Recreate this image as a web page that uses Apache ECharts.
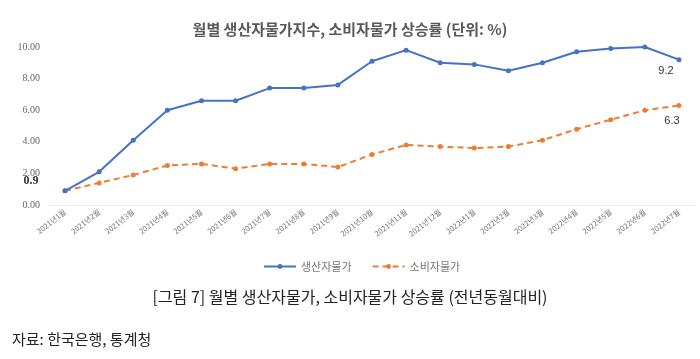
<!DOCTYPE html>
<html>
<head>
<meta charset="utf-8">
<script src="https://cdn.jsdelivr.net/npm/echarts@6/dist/echarts.min.js"></script>
<style>html,body{margin:0;padding:0;background:#fff;}#c{width:700px;height:359px;}</style>
</head>
<body>
<div id="c"></div>
<script>
const categories = ['2021년1월','2021년2월','2021년3월','2021년4월','2021년5월','2021년6월','2021년7월','2021년8월','2021년9월','2021년10월','2021년11월','2021년12월','2022년1월','2022년2월','2022년3월','2022년4월','2022년5월','2022년6월','2022년7월'];
const producer = [0.9, 2.1, 4.1, 6.0, 6.6, 6.6, 7.4, 7.4, 7.6, 9.1, 9.8, 9.0, 8.9, 8.5, 9.0, 9.7, 9.9, 10.0, 9.2];
const consumer = [0.9, 1.4, 1.9, 2.5, 2.6, 2.3, 2.6, 2.6, 2.4, 3.2, 3.8, 3.7, 3.6, 3.7, 4.1, 4.8, 5.4, 6.0, 6.3];
const seriesNames = ['생산자물가', '소비자물가'];
const yTicks = { min: 0, max: 10, interval: 2 };

const chart = echarts.init(document.getElementById('c'), null, { renderer: 'canvas' });
const KR = '"Noto Sans CJK KR", "Noto Sans", sans-serif';
const labelStyle = { show: true, color: '#333', fontSize: 11, fontFamily: 'Liberation Sans, sans-serif' };

const last = categories.length - 1;
const producerData = producer.map((v, i) => {
  if (i === 0) return { value: v, label: Object.assign({}, labelStyle, { position: 'left', distance: 24, offset: [0, -10], fontFamily: 'Liberation Serif, serif', fontWeight: 'bold', fontSize: 12, formatter: '{c}' }) };
  if (i === last) return { value: v, label: Object.assign({}, labelStyle, { position: 'bottom', distance: 3, offset: [-13, 0], formatter: '{c}' }) };
  return v;
});
const consumerData = consumer.map((v, i) => {
  if (i === last) return { value: v, label: Object.assign({}, labelStyle, { position: 'bottom', distance: 8, offset: [-7, 0], formatter: '{c}' }) };
  return v;
});

chart.setOption({
  animation: false,
  backgroundColor: '#fff',
  title: [
    { text: '월별 생산자물가지수, 소비자물가 상승률 (단위: %)', left: 'center', top: 17,
      textStyle: { fontFamily: KR, fontSize: 15, fontWeight: 'bold', color: '#595959' } },
    { text: '[그림 7] 월별 생산자물가, 소비자물가 상승률 (전년동월대비)', left: 'center', top: 284,
      textStyle: { fontFamily: KR, fontSize: 16, fontWeight: 'normal', color: '#222' } },
    { text: '자료: 한국은행, 통계청', left: 7, top: 327,
      textStyle: { fontFamily: KR, fontSize: 15, fontWeight: 'normal', color: '#222' } }
  ],
  legend: {
    data: seriesNames, top: 256, left: 258, itemWidth: 32, itemHeight: 6, itemGap: 20,
    textStyle: { fontFamily: KR, fontSize: 11, color: '#777' }
  },
  grid: { left: 48, right: 4, top: 47, bottom: 154, containLabel: false },
  xAxis: {
    type: 'category', data: categories, boundaryGap: true,
    axisLine: { show: true, lineStyle: { color: '#eaeaea' } },
    axisTick: { show: false },
    axisLabel: { interval: 0, rotate: 38, fontSize: 7.5, color: '#777', margin: 6, fontFamily: KR }
  },
  yAxis: {
    type: 'value', min: yTicks.min, max: yTicks.max, interval: yTicks.interval,
    splitLine: { show: false },
    axisLine: { show: false }, axisTick: { show: false },
    axisLabel: { formatter: v => v.toFixed(2), fontSize: 10, color: '#666', margin: 8, fontFamily: 'Liberation Serif, serif' }
  },
  series: [
    { name: seriesNames[0], type: 'line', data: producerData, symbol: 'circle', symbolSize: 5,
      itemStyle: { color: '#4472C4' }, lineStyle: { color: '#4472C4', width: 2 }, z: 3 },
    { name: seriesNames[1], type: 'line', data: consumerData, symbol: 'circle', symbolSize: 5,
      itemStyle: { color: '#ED7D31' }, lineStyle: { color: '#ED7D31', width: 2, type: [6, 4] }, z: 2 }
  ]
});
</script>
</body>
</html>
